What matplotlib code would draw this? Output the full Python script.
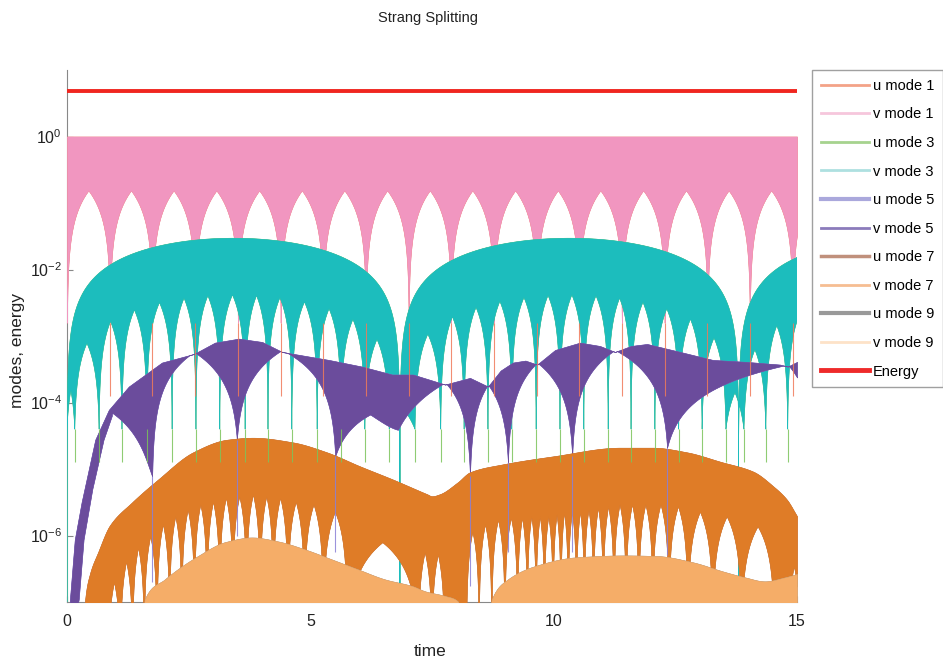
import numpy as np
import matplotlib
matplotlib.use('Agg')
import matplotlib.pyplot as plt
from matplotlib.lines import Line2D
from matplotlib.ticker import NullLocator

plt.rcParams['font.family'] = ['Liberation Sans', 'DejaVu Sans']
plt.rcParams['mathtext.fontset'] = 'custom'
plt.rcParams['mathtext.rm'] = 'Liberation Sans'
plt.rcParams['mathtext.default'] = 'regular'

# ---- values (time, and log10 of the amplitude) ----
energy_t = [0.0, 15.0]
energy = [4.9, 4.9]

# mode 1: flat top at 1, equal arches underneath
v1_top_t = [0.0, 15.0]
v1_top_e = [0.0, 0.0]
v1_cusps = [0.00, 0.88, 1.75, 2.63, 3.51, 4.39, 5.26, 6.14, 7.02, 7.89, 8.77,
            9.65, 10.52, 11.40, 12.28, 13.16, 14.03, 14.91, 15.79]
v1_arch_e = -0.81
v1_depth = -2.8
u1_depth = -3.9

# mode 3: big beat domes, smaller arches inside
v3_nodes = [0.0, 6.84, 13.80, 20.80]
v3_dome_e = [-1.53, -1.53, -1.53]
v3_cusps = [0.00, 0.16, 0.66, 1.13, 1.64, 2.16, 2.65, 3.14, 3.66, 4.13, 4.62,
            5.14, 5.63, 6.12, 6.62, 7.15, 7.68, 8.16, 8.65, 9.14, 9.64, 10.13,
            10.62, 11.12, 11.59, 12.08, 12.57, 13.05, 13.54, 13.91, 14.36,
            14.81, 15.30]
v3_arch_drop = 0.85
v3_depth = -4.4
u3_depth = -4.9

# mode 5
v5_top_t = [0.00, 0.06, 0.16, 0.30, 0.58, 0.86, 1.27, 1.95, 2.61, 3.04, 3.53,
            4.01, 4.42, 4.90, 5.38, 6.06, 6.68, 7.11, 7.77, 8.28, 8.65, 8.91,
            9.16, 9.42, 9.66, 10.03, 10.54, 10.95, 11.26, 11.59, 11.92, 12.60,
            13.27, 13.97, 14.65, 14.81, 15.00]
v5_top_e = [-9.0, -6.96, -6.06, -5.50, -4.56, -4.11, -3.76, -3.40, -3.27,
            -3.10, -3.04, -3.09, -3.24, -3.30, -3.36, -3.46, -3.58, -3.58,
            -3.73, -3.63, -3.76, -3.52, -3.40, -3.37, -3.43, -3.21, -3.10,
            -3.15, -3.24, -3.15, -3.12, -3.24, -3.36, -3.39, -3.43, -3.46, -3.39]
v5_inner_t = [0.18, 0.24, 0.34, 0.52, 0.75, 0.92, 1.00]
v5_inner_e = [-7.2, -6.96, -6.06, -5.30, -4.56, -4.20, 0.0]
v5_cusps = [0.05, 1.75, 3.49, 5.51, 6.80, 8.28, 9.06, 10.38, 12.33, 15.30]
v5_peak_t = [0.92, 2.61, 4.42, 6.23, 7.77, 8.65, 9.66, 11.26, 14.81]
v5_arch_e = [-4.15, -3.24, -3.21, -4.18, -3.70, -3.73, -3.40, -3.21, -3.43]
v5_depth = [-9.0, -5.11, -4.56, -4.81, -4.41, -5.11, -4.90, -4.81, -4.68, -4.50]
u5_depth = [-9.0, -6.70, -6.01, -6.25, -4.41, -6.76, -6.25, -6.25, -6.30, -4.50]

# mode 7
v7_top_t = [0.30, 0.37, 0.47, 0.64, 0.88, 1.34, 1.87, 2.59, 3.29, 3.82, 4.64,
            5.34, 6.02, 6.70, 7.40, 7.50, 7.66, 8.03, 8.28, 8.96, 9.99, 11.36,
            12.04, 12.74, 13.42, 14.10, 14.51, 14.79, 15.00]
v7_top_e = [-9.0, -6.99, -6.58, -6.25, -5.85, -5.50, -5.16, -4.75, -4.56,
            -4.53, -4.60, -4.75, -4.96, -5.16, -5.38, -5.41, -5.38, -5.20,
            -5.05, -4.93, -4.81, -4.68, -4.68, -4.75, -4.89, -5.04, -5.26,
            -5.46, -5.71]
v7_cusps = [0.37, 0.84, 1.09, 1.34, 1.58, 1.84, 2.10, 2.35, 2.61, 2.87, 3.13,
            3.40, 3.68, 3.96, 4.23, 4.53, 4.87, 5.26, 5.75, 7.21, 7.49, 7.75,
            8.20, 8.46, 8.72, 8.99, 9.25, 9.45, 9.63, 9.80, 9.98, 10.14, 10.29,
            10.46, 10.62, 10.81, 11.01, 11.23, 11.48, 11.74, 12.03, 12.36,
            12.75, 13.26, 13.85, 14.53, 14.81, 15.06]
v7_arch_e = [-7.5, -6.70, -6.39, -6.18, -6.01, -5.83, -5.71, -5.61, -5.53,
             -5.49, -5.43, -5.41, -5.38, -5.41, -5.43, -5.49, -5.53, -5.64,
             -6.10, -6.25, -6.28, -7.5, -5.94, -5.83, -5.76, -5.73, -5.73,
             -5.71, -5.71, -5.71, -5.68, -5.65, -5.64, -5.64, -5.61, -5.58,
             -5.56, -5.53, -5.53, -5.53, -5.53, -5.56, -5.64, -5.71, -5.86,
             -7.5, -6.46]
v7_depth = -8.0

# mode 9
v9_top_t = [1.50, 1.60, 2.01, 2.69, 3.25, 3.80, 4.34, 4.89, 5.44, 5.98, 6.53,
            7.09, 7.36, 7.77, 8.03, 8.12, 8.65, 8.73, 9.06, 9.62, 10.44, 11.46,
            12.14, 12.84, 13.52, 13.93, 14.34, 14.75, 15.00]
v9_top_e = [-9.0, -6.96, -6.66, -6.31, -6.10, -6.03, -6.09, -6.21, -6.36,
            -6.51, -6.66, -6.76, -6.84, -6.91, -6.99, -7.40, -7.40, -6.96,
            -6.66, -6.46, -6.33, -6.30, -6.31, -6.40, -6.55, -6.63, -6.69,
            -6.63, -6.58]

labels = ['u mode 1', 'v mode 1', 'u mode 3', 'v mode 3', 'u mode 5',
          'v mode 5', 'u mode 7', 'v mode 7', 'u mode 9', 'v mode 9', 'Energy']
plot_colors = ['#f07a5a', '#f196c0', '#7cc35a', '#1cbdbd', '#8a80d6',
               '#6b4c9c', '#a86a50', '#df7c27', '#808080', '#f5ad68', '#f0261f']
legend_colors = ['#f3a287', '#f6c6dc', '#a6d38e', '#aee0e0', '#aaa8dc',
                 '#8b7bbb', '#c0907c', '#f6bd92', '#999999', '#fde2c8', '#ee2a2a']
legend_widths = [2.0, 2.0, 2.0, 2.0, 3.0, 2.0, 2.5, 2.0, 3.0, 2.0, 3.5]

t = np.linspace(0.0, 15.0, 15001)


def curve(tc, ec):
    """Piecewise-linear curve through read control points, in log10 space."""
    return 10.0 ** np.interp(t, tc, ec, left=-12.0, right=ec[-1])


def smooth_curve(tc, ec):
    """Monotone cubic (pchip) through read control points, in log10 space."""
    x = np.asarray(tc, float)
    y = np.asarray(ec, float)
    h = np.diff(x)
    d = np.diff(y) / h
    m = np.zeros_like(y)
    m[0], m[-1] = d[0], d[-1]
    for k in range(1, len(x) - 1):
        if d[k - 1] * d[k] > 0:
            w1 = 2 * h[k] + h[k - 1]
            w2 = h[k] + 2 * h[k - 1]
            m[k] = (w1 + w2) / (w1 / d[k - 1] + w2 / d[k])
    i = np.clip(np.searchsorted(x, t) - 1, 0, len(x) - 2)
    s = (t - x[i]) / h[i]
    e = ((2 * s**3 - 3 * s**2 + 1) * y[i] + (s**3 - 2 * s**2 + s) * h[i] * m[i]
         + (-2 * s**3 + 3 * s**2) * y[i + 1] + (s**3 - s**2) * h[i] * m[i + 1])
    e = np.where(t < x[0], -12.0, e)
    return 10.0 ** e


def arches(cusps, peak_e, depth_e, peak_t=None, shape='tri'):
    """Row of arches between consecutive cusps."""
    cusps = np.asarray(cusps, float)
    peak_e = np.broadcast_to(np.asarray(peak_e, float), (len(cusps) - 1,))
    depth_e = np.broadcast_to(np.asarray(depth_e, float), cusps.shape)
    out = np.full(t.shape, 1e-12)
    for i in range(len(cusps) - 1):
        a, b = cusps[i], cusps[i + 1]
        m = 0.5 * (a + b) if peak_t is None else peak_t[i]
        seg = (t >= a) & (t < b)
        tt = t[seg]
        s = np.where(tt < m, 0.5 * (tt - a) / (m - a), 0.5 + 0.5 * (tt - m) / (b - m))
        if shape == 'sin':
            f = np.abs(np.sin(np.pi * s))
        else:
            f = 1.0 - np.abs(1.0 - 2.0 * s)
        floor = 10.0 ** (depth_e[i] + (depth_e[i + 1] - depth_e[i]) * s)
        out[seg] = floor + (10.0 ** peak_e[i] - floor) * f
    return out


# envelopes
U1 = curve(v1_top_t, v1_top_e)
L1 = arches(v1_cusps, v1_arch_e, v1_depth)

U3 = arches(v3_nodes, v3_dome_e, -12.0, shape='sin')
mids = 0.5 * (np.array(v3_cusps[:-1]) + np.array(v3_cusps[1:]))
v3_arch_e = np.log10(np.interp(mids, t, U3) + 1e-12) - v3_arch_drop
L3 = arches(v3_cusps, v3_arch_e, v3_depth)

U5 = curve(v5_top_t, v5_top_e)
inner5 = 10.0 ** np.interp(t, v5_inner_t, v5_inner_e, left=-12.0, right=0.0)
L5 = np.minimum(arches(v5_cusps, v5_arch_e, v5_depth, v5_peak_t), inner5)

U7 = smooth_curve(v7_top_t, v7_top_e)
L7 = arches(v7_cusps, v7_arch_e, v7_depth)

U9 = smooth_curve(v9_top_t, v9_top_e)
L9 = np.full(t.shape, 1e-12)

# u modes sit under the v modes with the same envelope; only their deeper
# cusp lines show through
bands = [(L1, U1), (L1, U1), (L3, U3), (L3, U3), (L5, U5), (L5, U5),
         (L7, U7), (L7, U7), (L9, U9), (L9, U9)]
spikes = {0: (v1_cusps, v1_depth, u1_depth),
          2: (v3_cusps, v3_depth, u3_depth),
          4: (v5_cusps, v5_depth, u5_depth)}

fig = plt.figure(figsize=(9.43, 6.64), dpi=100)
ax = fig.add_axes([67 / 943, 1 - 602 / 664, 730 / 943, 532 / 664])

for k, ((lo, hi), c) in enumerate(zip(bands, plot_colors[:10])):
    ax.fill_between(t, np.minimum(lo, hi), hi, color=c, lw=0.4)
    if k in spikes:
        cx, top_e, bot_e = spikes[k]
        cx = np.asarray(cx)
        top_e = np.broadcast_to(np.asarray(top_e, float), cx.shape)
        bot_e = np.broadcast_to(np.asarray(bot_e, float), cx.shape)
        ok = (cx > 0.1) & (cx < 15.0) & (bot_e < top_e)
        ax.vlines(cx[ok], 10.0 ** bot_e[ok], 10.0 ** top_e[ok], color=c,
                  lw=0.8, alpha=0.85)
ax.plot(energy_t, energy, color=plot_colors[10], lw=2.8, solid_capstyle='butt')

ax.set_yscale('log')
ax.set_xlim(0, 15)
ax.set_ylim(1e-7, 10)
ax.set_yticks([1e-6, 1e-4, 1e-2, 1e0])
ax.set_yticklabels(['$10^{-6}$', '$10^{-4}$', '$10^{-2}$', '$10^{0}$'])
ax.yaxis.set_minor_locator(NullLocator())
ax.set_xticks([0, 5, 10, 15])
ax.set_xticklabels(['0', '5', '10', '15'])
ax.tick_params(direction='in', length=4, color='#888888', labelsize=11.5,
               labelcolor='#222222')
ax.tick_params(axis='x', pad=9)
ax.set_axisbelow(True)
for side in ['top', 'right']:
    ax.spines[side].set_visible(False)
for side in ['left', 'bottom']:
    ax.spines[side].set_color('#888888')
    ax.spines[side].set_zorder(0.5)

fig.text(428 / 943, 1 - 18 / 664, 'Strang Splitting', ha='center', va='center',
         fontsize=10.5, color='#222222')
fig.text(430 / 943, 1 - 651 / 664, 'time', ha='center', va='center',
         fontsize=12.5, color='#222222')
fig.text(18 / 943, 1 - 350 / 664, 'modes, energy', ha='center', va='center',
         rotation=90, fontsize=12.5, color='#222222')

handles = [Line2D([0], [0], color=c, lw=w) for c, w in zip(legend_colors, legend_widths)]
leg = fig.legend(handles, labels, loc='upper left',
                 bbox_to_anchor=(812 / 943, 1 - 70 / 664), fontsize=10.5,
                 frameon=True, fancybox=False, edgecolor='#888888',
                 handlelength=3.3, handletextpad=0.25, labelspacing=1.0,
                 borderpad=0.6, borderaxespad=0.0)
leg.get_frame().set_linewidth(1.0)

fig.savefig('out.png', dpi=100)
